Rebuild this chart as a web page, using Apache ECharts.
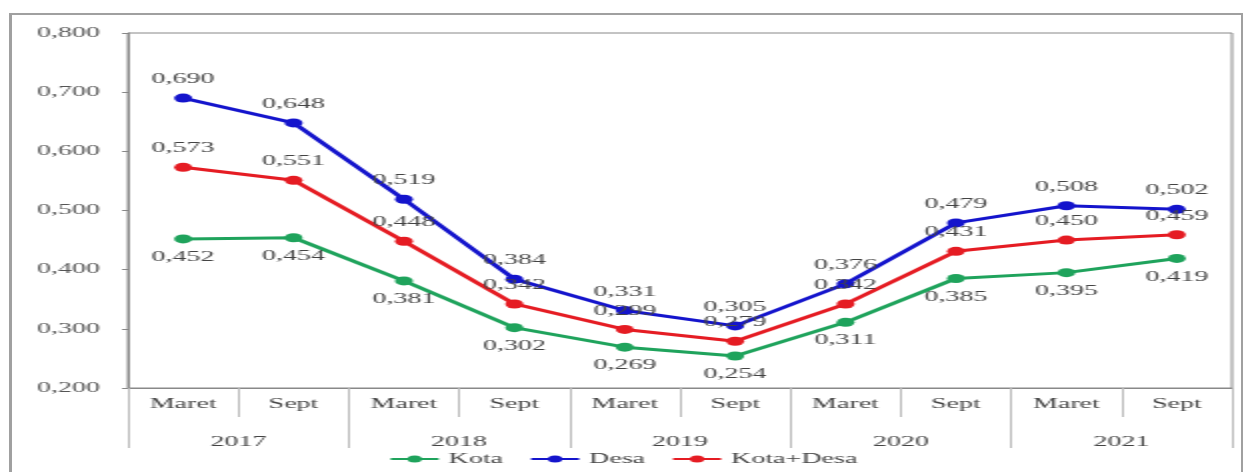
<!DOCTYPE html>
<html>
<head>
<meta charset="utf-8">
<script src="https://cdn.jsdelivr.net/npm/echarts@6/dist/echarts.min.js"></script>
<style>
html,body{margin:0;padding:0;background:#fff;overflow:hidden;}
#wrap{width:1246px;height:472px;position:relative;overflow:hidden;background:#fff;}
#c{width:623px;height:472px;transform:scaleX(2);transform-origin:0 0;position:absolute;left:0;top:0;}
#frame{position:absolute;left:9px;top:13px;width:1229px;height:480px;border:2px solid #a0a0a0;border-left-width:3px;pointer-events:none;}
</style>
</head>
<body>
<div id="wrap"><div id="c"></div><div id="frame"></div></div>
<script>
const months = ['Maret','Sept','Maret','Sept','Maret','Sept','Maret','Sept','Maret','Sept'];
const years = ['2017','2018','2019','2020','2021'];
const kota = [0.452,0.454,0.381,0.302,0.269,0.254,0.311,0.385,0.395,0.419];
const desa = [0.690,0.648,0.519,0.384,0.331,0.305,0.376,0.479,0.508,0.502];
const kotaDesa = [0.573,0.551,0.448,0.342,0.299,0.279,0.342,0.431,0.450,0.459];

const FONT = 'Liberation Serif';
const fmt = v => v.toFixed(3).replace('.', ',');

function mk(name, data, color, pos) {
  return {
    name, type: 'line', data, xAxisIndex: 0,
    symbol: 'circle', symbolSize: 9,
    lineStyle: {color, width: 3},
    itemStyle: {color},
    label: {
      show: true, position: pos, distance: 7,
      formatter: p => fmt(p.value),
      fontFamily: FONT, fontSize: 14, color: '#444'
    }
  };
}

const chart = echarts.init(document.getElementById('c'));
chart.setOption({
  animation: false,
  backgroundColor: 'transparent',
  grid: {left: 64, right: 7, top: 33, bottom: 84, show: true, borderColor: '#888', borderWidth: 1, backgroundColor: 'transparent'},
  legend: {
    top: 447, left: 'center', itemWidth: 24, itemHeight: 9, itemGap: 13,
    textStyle: {fontFamily: FONT, fontSize: 14, color: '#444'},
    data: ['Kota','Desa','Kota+Desa']
  },
  xAxis: [{
    type: 'category', data: months, position: 'bottom', boundaryGap: true,
    axisLine: {lineStyle: {color: '#888'}},
    axisTick: {show: true, alignWithLabel: false, length: 29, lineStyle: {color: '#bbb'}},
    axisLabel: {fontFamily: FONT, fontSize: 14, color: '#444', margin: 9, interval: 0}
  }, {
    type: 'category', data: years, position: 'bottom', boundaryGap: true,
    axisLine: {show: false},
    axisTick: {show: true, alignWithLabel: false, length: 60, lineStyle: {color: '#bbb'}},
    axisLabel: {fontFamily: FONT, fontSize: 14, color: '#444', margin: 47, interval: 0}
  }],
  yAxis: {
    type: 'value', min: 0.2, max: 0.8, interval: 0.1,
    axisLine: {show: true, lineStyle: {color: '#888'}},
    axisTick: {show: true, length: 3, lineStyle: {color: '#888'}},
    splitLine: {show: false},
    axisLabel: {formatter: v => fmt(v), fontFamily: FONT, fontSize: 14, color: '#555', margin: 14}
  },
  series: [
    mk('Kota', kota, '#1fa35c', 'bottom'),
    mk('Desa', desa, '#1414cc', 'top'),
    mk('Kota+Desa', kotaDesa, '#e51c23', 'top')
  ]
});
</script>
</body>
</html>
